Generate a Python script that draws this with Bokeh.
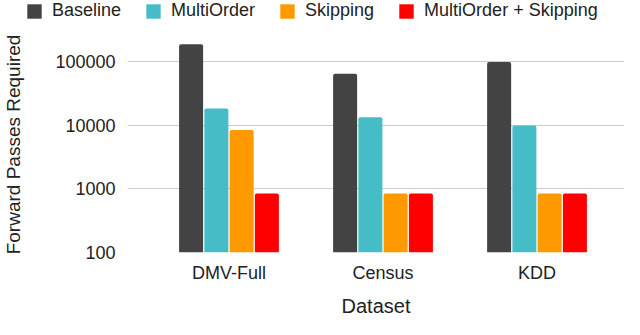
from bokeh.plotting import figure
from bokeh.models import (ColumnDataSource, Range1d, FixedTicker, NumeralTickFormatter,
                          Legend, LegendItem)
from bokeh.embed import file_html
from bokeh.resources import INLINE

categories = ["DMV-Full", "Census", "KDD"]
series_names = ["Baseline", "MultiOrder", "Skipping", "MultiOrder + Skipping"]
baseline = [190000, 65000, 100000]
multiorder = [18500, 13500, 10000]
skipping = [8500, 850, 850]
mo_skipping = [850, 850, 850]
y_ticks = [100, 1000, 10000, 100000]
colors = ["#434343", "#46bdc6", "#ff9900", "#ff0000"]

FONT = "Liberation Sans"
TXT = "#222222"

# main chart
p = figure(frame_width=497, frame_height=216, output_backend="svg", toolbar_location=None,
           y_axis_type="log",
           x_range=Range1d(-0.659, 2.568), y_range=Range1d(min(y_ticks), 252000),
           min_border_left=127, min_border_right=0, min_border_top=0,
           min_border_bottom=20)
p.outline_line_color = None
p.background_fill_color = "white"
p.border_fill_color = "white"

# legend strip above the chart (separate root, so its frame spans the full width)
pl = figure(width=624, height=36, output_backend="svg", toolbar_location=None,
            x_axis_location=None, y_axis_location=None,
            x_range=Range1d(0, 1), y_range=Range1d(0, 1),
            min_border_left=0, min_border_right=0, min_border_top=0, min_border_bottom=0)
pl.outline_line_color = None
pl.xgrid.visible = False
pl.ygrid.visible = False

pitch = 0.164
bar_w = 0.156
all_series = [baseline, multiorder, skipping, mo_skipping]
leg_renderers = []
for k, (vals, col) in enumerate(zip(all_series, colors)):
    off = (k - 1.5) * pitch
    src = ColumnDataSource(dict(x=[i + off for i in range(len(categories))],
                                top=vals, bottom=[min(y_ticks)] * len(vals)))
    p.vbar(x="x", top="top", bottom="bottom", width=bar_w, source=src,
           fill_color=col, line_color=None, border_radius=(2, 2, 0, 0))
    rl = pl.vbar(x="x", top="top", bottom="bottom", width=bar_w, source=src,
                 fill_color=col, line_color=None)
    rl.visible = False
    leg_renderers.append(rl)

# axes
p.yaxis.ticker = FixedTicker(ticks=y_ticks, minor_ticks=[])
p.yaxis.formatter = NumeralTickFormatter(format="0")
p.xaxis.ticker = FixedTicker(ticks=list(range(len(categories))), minor_ticks=[])
p.xaxis.major_label_overrides = {i: c for i, c in enumerate(categories)}
for ax in (p.xaxis[0], p.yaxis[0]):
    ax.axis_line_color = None
    ax.major_tick_line_color = None
    ax.minor_tick_line_color = None
    ax.major_tick_out = 0
    ax.major_tick_in = 0
    ax.minor_tick_out = 0
    ax.major_label_text_font = FONT
    ax.major_label_text_font_size = "18px"
    ax.major_label_text_color = TXT
    ax.axis_label_text_font = FONT
    ax.axis_label_text_font_style = "normal"
    ax.axis_label_text_color = TXT
p.yaxis.major_label_standoff = 12
p.xaxis.major_label_standoff = 10
p.yaxis.axis_label = "Forward Passes Required"
p.yaxis.axis_label_text_font_size = "19px"
p.yaxis.axis_label_standoff = 28
p.xaxis.axis_label = "Dataset"
p.xaxis.axis_label_text_font_size = "20px"
p.xaxis.axis_label_standoff = 9

p.xgrid.grid_line_color = None
p.ygrid.grid_line_color = "#cccccc"
p.ygrid.grid_line_width = 1
p.ygrid.ticker = FixedTicker(ticks=y_ticks, minor_ticks=[])

legend = Legend(items=[LegendItem(label=n, renderers=[r]) for n, r in zip(series_names, leg_renderers)],
                orientation="horizontal", location=(25, 15), click_policy="none",
                glyph_width=18, glyph_height=18, label_standoff=9, spacing=23,
                padding=0, margin=0, border_line_color=None, background_fill_alpha=0,
                label_text_font=FONT, label_text_font_size="18px", label_text_color=TXT)
pl.add_layout(legend, "center")

open("out.html", "w").write(file_html([pl, p], INLINE))
